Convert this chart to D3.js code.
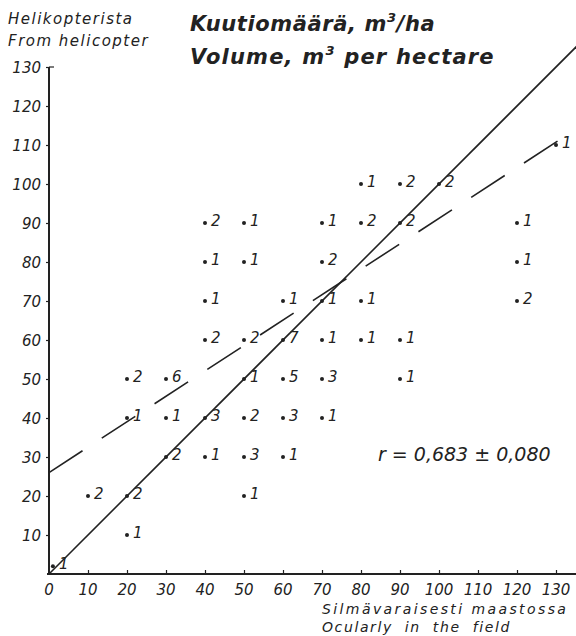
<!DOCTYPE html>
<html>
<head>
<meta charset="utf-8">
<script src="https://cdn.jsdelivr.net/npm/d3@7"></script>
<style>
  body { margin: 0; background: #fff; }
  svg text { font-family: "DejaVu Sans", sans-serif; font-style: italic; fill: #222; }
</style>
</head>
<body>
<div id="chart"></div>
<script>
// ticks
const xTicks = [0, 10, 20, 30, 40, 50, 60, 70, 80, 90, 100, 110, 120, 130];
const yTicks = [10, 20, 30, 40, 50, 60, 70, 80, 90, 100, 110, 120, 130];

// plots: [field, helicopter, count]
const cells = [
    [1, 2, 1],
    [20, 10, 1], [10, 20, 2], [20, 20, 2], [50, 20, 1],
    [30, 30, 2], [40, 30, 1], [50, 30, 3], [60, 30, 1],
    [20, 40, 1], [30, 40, 1], [40, 40, 3], [50, 40, 2], [60, 40, 3], [70, 40, 1],
    [20, 50, 2], [30, 50, 6], [50, 50, 1], [60, 50, 5], [70, 50, 3], [90, 50, 1],
    [40, 60, 2], [50, 60, 2], [60, 60, 7], [70, 60, 1], [80, 60, 1], [90, 60, 1],
    [40, 70, 1], [60, 70, 1], [70, 70, 1], [80, 70, 1], [120, 70, 2],
    [40, 80, 1], [50, 80, 1], [70, 80, 2], [120, 80, 1],
    [40, 90, 2], [50, 90, 1], [70, 90, 1], [80, 90, 2], [90, 90, 2], [120, 90, 1],
    [80, 100, 1], [90, 100, 2], [100, 100, 2],
    [130, 110, 1]
];

// regression line (dashed) and 1:1 line
const regression = [[0, 26], [135, 114]];
const identity = [[0, 0], [136, 136]];

const width = 576, height = 636;
const svg = d3.select("#chart").append("svg")
    .attr("width", width)
    .attr("height", height);

const x = d3.scaleLinear().domain([0, 130]).range([49, 556]);
const y = d3.scaleLinear().domain([0, 130]).range([574, 67]);

const ink = "#222";

// axes
const xAxis = svg.append("g")
    .attr("transform", `translate(0,${y(0)})`)
    .call(d3.axisTop(x).tickValues(xTicks.slice(1)).tickSize(4).tickFormat(""));
xAxis.select(".domain").remove();
xAxis.selectAll("line").attr("stroke", ink).attr("stroke-width", 1.2);

svg.append("line")
    .attr("x1", x(0) - 2).attr("x2", width)
    .attr("y1", y(0)).attr("y2", y(0))
    .attr("stroke", ink).attr("stroke-width", 2);

svg.append("line")
    .attr("x1", x(0)).attr("x2", x(0))
    .attr("y1", y(130)).attr("y2", y(0) + 1)
    .attr("stroke", ink).attr("stroke-width", 2);

const yAxis = svg.append("g")
    .attr("transform", `translate(${x(0)},0)`)
    .call(d3.axisLeft(y).tickValues(yTicks).tickSize(3).tickFormat(""));
yAxis.select(".domain").remove();
yAxis.selectAll("line").attr("stroke", ink).attr("stroke-width", 1.2);

svg.append("line")
    .attr("x1", x(0)).attr("x2", x(0) + 5)
    .attr("y1", y(130)).attr("y2", y(130))
    .attr("stroke", ink).attr("stroke-width", 1.2);

// tick labels
svg.append("g").selectAll("text")
    .data(xTicks)
    .join("text")
    .attr("x", d => x(d))
    .attr("y", y(0) + 21)
    .attr("text-anchor", "middle")
    .style("font-size", "15px")
    .text(d => d);

svg.append("g").selectAll("text")
    .data(yTicks)
    .join("text")
    .attr("x", x(0) - 8)
    .attr("y", d => y(d) + 6)
    .attr("text-anchor", "end")
    .style("font-size", "15px")
    .text(d => d);

// lines
const line = d3.line().x(d => x(d[0])).y(d => y(d[1]));

svg.append("path")
    .attr("d", line(identity))
    .attr("fill", "none")
    .attr("stroke", ink)
    .attr("stroke-width", 1.6);

svg.append("path")
    .attr("d", line(regression))
    .attr("fill", "none")
    .attr("stroke", ink)
    .attr("stroke-width", 1.6)
    .attr("stroke-dasharray", "40,23");

// plotted cells
const pts = svg.append("g").selectAll("g")
    .data(cells)
    .join("g")
    .attr("transform", d => `translate(${x(d[0])},${y(d[1])})`);

pts.append("circle")
    .attr("r", 2)
    .attr("fill", ink);

pts.append("text")
    .attr("x", 6)
    .attr("y", 3)
    .style("font-size", "15px")
    .text(d => d[2]);

// correlation
svg.append("text")
    .attr("x", 378)
    .attr("y", 461)
    .style("font-size", "19px")
    .text("r = 0,683 \u00b1 0,080");

// titles
svg.append("text").attr("x", 8).attr("y", 24)
    .style("font-size", "15px").style("letter-spacing", "1.5px").text("Helikopterista");
svg.append("text").attr("x", 8).attr("y", 46)
    .style("font-size", "15px").style("letter-spacing", "1.5px").text("From helicopter");

const t1 = svg.append("text").attr("x", 190).attr("y", 31)
    .style("font-size", "21px").style("font-weight", "bold").style("letter-spacing", "0.6px");
t1.append("tspan").text("Kuutiomäärä, m");
t1.append("tspan").attr("dy", -9).style("font-size", "13px").text("3");
t1.append("tspan").attr("dy", 9).text("/ha");

const t2 = svg.append("text").attr("x", 190).attr("y", 64)
    .style("font-size", "21px").style("font-weight", "bold").style("letter-spacing", "1.2px");
t2.append("tspan").text("Volume, m");
t2.append("tspan").attr("dy", -9).style("font-size", "13px").text("3");
t2.append("tspan").attr("dy", 9).text(" per hectare");

svg.append("text").attr("x", 322).attr("y", 614)
    .style("font-size", "14px").style("letter-spacing", "2.4px").text("Silmävaraisesti maastossa");
svg.append("text").attr("x", 322).attr("y", 632)
    .style("font-size", "14px").style("letter-spacing", "1.6px").style("word-spacing", "6px")
    .text("Ocularly in the field");
</script>
</body>
</html>
